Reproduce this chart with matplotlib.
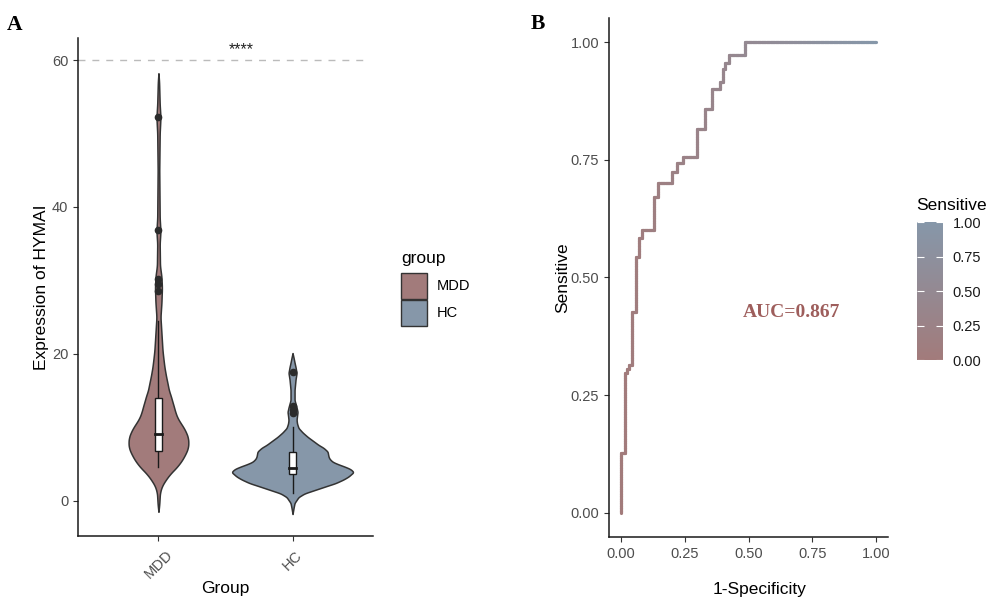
import numpy as np
import matplotlib
matplotlib.use("Agg")
import matplotlib.pyplot as plt
from matplotlib.collections import LineCollection
from matplotlib.colors import LinearSegmentedColormap, Normalize
from matplotlib.patches import Rectangle
import matplotlib.cm as cm

plt.rcParams['font.family'] = ['Liberation Sans', 'DejaVu Sans']

# ---- data ----
groups = ['MDD', 'HC']
group_colors = ['#A27B7B', '#8697A9']

# violin outlines: expression level -> relative density (HC peak = 1)
mdd_levels = [-1.5, -0.5, 0.5, 1.1, 2.0, 2.9, 3.7, 4.6, 5.5, 6.5, 7.2, 7.9, 8.6, 9.2,
              10.0, 10.6, 11.3, 12.0, 13.0, 13.7, 14.2, 15.0, 16.0, 17.0, 18.2, 19.5,
              20.5, 22.8, 25, 27, 29, 30.5, 32, 35, 36.7, 38.5, 45, 50, 52.2, 54, 57, 58.2]
mdd_density = [0, .013, .02, .025, .057, .123, .197, .303, .385, .451, .484, .492, .484, .459,
               .41, .361, .311, .279, .246, .221, .205, .172, .148, .123, .098, .079,
               .066, .049, .033, .049, .057, .049, .025, .02, .033, .02, .013, .02, .033, .02, .01, 0]
hc_levels = [-1.8, -1.0, -0.3, 0.5, 1.0, 1.5, 2.0, 2.4, 2.9, 3.3, 3.9, 4.3, 4.6, 5.0, 5.3,
             5.7, 6.0, 6.7, 7.2, 7.6, 8.2, 8.7, 9.3, 9.9, 10.5, 11.0, 11.6, 12.1, 12.7,
             13.7, 15.1, 16.5, 17.4, 18.2, 18.8, 19.5, 20.1]
hc_density = [0, .016, .033, .098, .197, .377, .557, .705, .836, .918, 1.0, .951, .869, .738, .656,
              .607, .59, .574, .508, .426, .328, .246, .164, .098, .074, .066, .074, .082, .066,
              .033, .033, .049, .066, .049, .033, .016, 0]

# boxplot stats: whisker low, q1, median, q3, whisker high
mdd_box = [4.6, 6.8, 9.1, 14.0, 24.5]
hc_box = [1.1, 3.7, 4.4, 6.7, 10.1]
mdd_outliers = [28.5, 29.5, 30.2, 36.8, 52.3]
hc_outliers = [12.0, 12.4, 12.9, 17.5]

# ROC curve corner points (step, post)
roc_fpr = [0, 0, 0.016, 0.022, 0.031, 0.043, 0.058, 0.07, 0.082, 0.13, 0.145, 0.2, 0.22,
           0.243, 0.298, 0.329, 0.356, 0.388, 0.40, 0.408, 0.424, 0.486, 1.0]
roc_tpr = [0, 0.127, 0.297, 0.305, 0.314, 0.427, 0.544, 0.584, 0.60, 0.671, 0.70, 0.724, 0.743,
           0.756, 0.815, 0.858, 0.90, 0.915, 0.943, 0.955, 0.972, 1.0, 1.0]
auc = 0.867

W, H = 989, 599
fig = plt.figure(figsize=(W / 100, H / 100), dpi=100)


def fx(px):
    return px / W


def fy(py):
    return 1 - py / H


# ---- panel A: violin + box ----
ax1 = fig.add_axes([fx(78), fy(536), fx(373) - fx(78), fy(38) - fy(536)])
violins = [(mdd_levels, mdd_density, mdd_box, mdd_outliers),
           (hc_levels, hc_density, hc_box, hc_outliers)]
for i, (lev, dens, box, outl) in enumerate(violins):
    pos = i + 1
    yy = np.linspace(lev[0], lev[-1], 600)
    ww = np.interp(yy, lev, dens) * 0.455
    ww = np.convolve(np.pad(ww, 4, mode='edge'), np.ones(9) / 9, mode='valid')
    ax1.fill_betweenx(yy, pos - ww, pos + ww, facecolor=group_colors[i],
                      edgecolor='#333333', linewidth=1.1, zorder=2)
    # whiskers
    ax1.plot([pos, pos], [box[0], box[1]], color='#1a1a1a', lw=1, zorder=3)
    ax1.plot([pos, pos], [box[3], box[4]], color='#1a1a1a', lw=1, zorder=3)
    bw = 0.026
    ax1.add_patch(Rectangle((pos - bw, box[1]), 2 * bw, box[3] - box[1],
                            facecolor='white', edgecolor='#1a1a1a', lw=1, zorder=4))
    ax1.plot([pos - bw, pos + bw], [box[2], box[2]], color='#1a1a1a', lw=2, zorder=5)
    ax1.plot([pos] * len(outl), outl, 'o', color='#2b2b2b', ms=4.5, zorder=5)

ax1.plot([0.4, 2.56], [60, 60], color='#BBBBBB', lw=1, dashes=(5, 5), zorder=1)
ax1.text(1.62, 61.4, '****', ha='center', va='center', fontsize=11.5, color='#222222')
ax1.set_xlim(0.4, 2.6)
ax1.set_ylim(-4.8, 63)
ax1.set_xticks([1, 2])
ax1.set_xticklabels(groups, rotation=45, ha='center', va='top')
ax1.set_yticks([0, 20, 40, 60])
ax1.set_xlabel('Group', fontsize=12.5)
ax1.set_ylabel('Expression of HYMAI', fontsize=12.5)
ax1.xaxis.set_label_coords(0.498, -0.106)
ax1.xaxis.label.set_va('center')
ax1.yaxis.set_label_coords(-0.125, 0.5)
ax1.yaxis.label.set_va('center')

# group legend
fig.text(fx(401), fy(258), 'group', fontsize=12.5, ha='left', va='center')
for i, g in enumerate(groups):
    y0 = 273 + i * 27
    fig.add_artist(Rectangle((fx(401), fy(y0 + 26)), fx(26), 26 / H,
                             transform=fig.transFigure, facecolor=group_colors[i],
                             edgecolor='#333333', lw=1))
    fig.text(fx(437), fy(y0 + 13), g, fontsize=10.5, ha='left', va='center')

# ---- panel B: ROC ----
ax2 = fig.add_axes([fx(609), fy(537), fx(888) - fx(609), fy(18) - fy(537)])
cmap = LinearSegmentedColormap.from_list('sens', [group_colors[0], group_colors[1]])
norm = Normalize(0, 1)

# split the step path into short pieces so the colour changes along the curve
segs, vals = [], []
for i in range(1, len(roc_fpr)):
    corners = [(roc_fpr[i - 1], roc_tpr[i - 1]), (roc_fpr[i], roc_tpr[i - 1]),
               (roc_fpr[i], roc_tpr[i])]
    for (xa, ya), (xb, yb) in zip(corners[:-1], corners[1:]):
        n = max(1, int(np.hypot(xb - xa, yb - ya) / 0.005))
        xs = np.linspace(xa, xb, n + 1)
        ys = np.linspace(ya, yb, n + 1)
        for k in range(n):
            segs.append([(xs[k], ys[k]), (xs[k + 1], ys[k + 1])])
            vals.append((xs[k] + xs[k + 1]) / 2)
lc = LineCollection(segs, cmap=cmap, norm=norm, linewidths=2.3, capstyle='round')
lc.set_array(np.array(vals))
ax2.add_collection(lc)

ax2.text(0.667, 0.425, f'AUC={auc:.3f}', ha='center', va='center', fontsize=14,
         fontweight='bold', family='Liberation Serif', color='#9E5E5C')
ax2.set_xlim(-0.047, 1.047)
ax2.set_ylim(-0.051, 1.051)
ticks = [0, 0.25, 0.5, 0.75, 1.0]
ax2.set_xticks(ticks)
ax2.set_yticks(ticks)
ax2.set_xticklabels([f'{t:.2f}' for t in ticks])
ax2.set_yticklabels([f'{t:.2f}' for t in ticks])
ax2.set_xlabel('1-Specificity', fontsize=12.5)
ax2.set_ylabel('Sensitive', fontsize=12.5)
ax2.xaxis.set_label_coords(0.541, -0.102)
ax2.xaxis.label.set_va('center')
ax2.yaxis.set_label_coords(-0.165, 0.5)
ax2.yaxis.label.set_va('center')

for ax in (ax1, ax2):
    for s in ('top', 'right'):
        ax.spines[s].set_visible(False)
    for s in ('left', 'bottom'):
        ax.spines[s].set_color('#1a1a1a')
        ax.spines[s].set_linewidth(1.1)
    ax.tick_params(length=3.5, width=0.8, color='#333333', labelcolor='#4D4D4D',
                   labelsize=10.5)
ax1.tick_params(axis='x', pad=5)
ax2.tick_params(axis='x', pad=4)

# colorbar legend
cax = fig.add_axes([fx(917), fy(360), fx(26), (360 - 222) / H])
cb = fig.colorbar(cm.ScalarMappable(norm=norm, cmap=cmap), cax=cax)
cb.outline.set_visible(False)
cb.set_ticks(ticks)
cb.set_ticklabels([f'{t:.2f}' for t in ticks])
cax.tick_params(direction='in', length=5, width=0.8, color='white', left=True,
                right=True, labelleft=False, labelright=True, labelsize=10.5,
                labelcolor='#1a1a1a', pad=7)
cax.minorticks_off()
fig.text(fx(916), fy(206), 'Sensitive', fontsize=12.5, ha='left', va='center')

# panel labels
fig.text(fx(15), fy(25), 'A', fontsize=15.5, fontweight='bold', family='Liberation Serif',
         ha='center', va='center')
fig.text(fx(538), fy(24), 'B', fontsize=15.5, fontweight='bold', family='Liberation Serif',
         ha='center', va='center')

fig.savefig('out.png', dpi=100)
